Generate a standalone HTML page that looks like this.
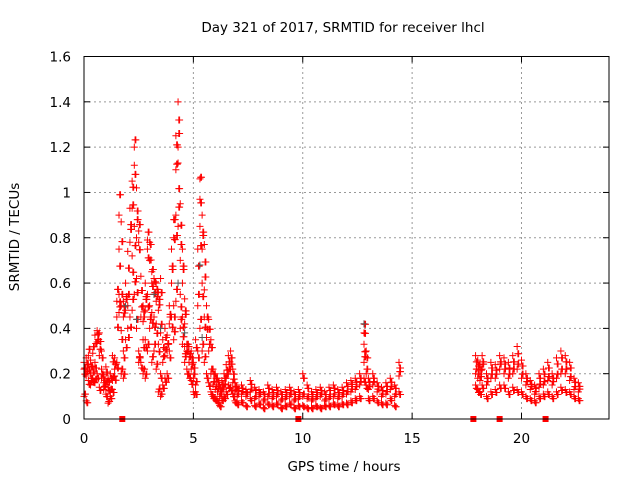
<!DOCTYPE html>
<html><head><meta charset="utf-8">
<style>
html,body{margin:0;padding:0;background:#fff;}
svg{display:block;font-family:"DejaVu Sans","Liberation Sans",sans-serif;}
</style></head>
<body>
<svg id="chart" width="640" height="480" viewBox="0 0 640 480" xmlns="http://www.w3.org/2000/svg">
<rect width="640" height="480" fill="#fff"/>
<text x="343" y="32" font-size="13.5" text-anchor="middle" fill="#000">Day 321 of 2017, SRMTID for receiver lhcl</text>
<text transform="translate(19,237) rotate(-90)" font-size="13.5" text-anchor="middle" fill="#000">SRMTID / TECUs</text>
<text x="344" y="471" font-size="13.5" text-anchor="middle" fill="#000">GPS time / hours</text>
<g id="grid"></g>
<g id="ticks"></g>
<g id="points"></g>
<rect x="84" y="56.5" width="525" height="362.5" fill="none" stroke="#000" stroke-width="1"/>
</svg>
<script>
const xTicks=[0,5,10,15,20];
const yTicks=[0,0.2,0.4,0.6,0.8,1,1.2,1.4,1.6];
const yTickLabels=["0","0.2","0.4","0.6","0.8","1","1.2","1.4","1.6"];
const times=[0,0.1,0.2,0.3,0.4,0.5,0.6,0.7,0.8,0.9,1.0,1.1,1.2,1.3,1.4,1.5,1.6,1.7,1.8,1.9,2.0,2.1,2.2,2.3,2.4,2.5,2.6,2.7,2.8,2.9,3.0,3.1,3.2,3.3,3.4,3.5,3.6,3.7,3.8,3.9,4.0,4.1,4.2,4.3,4.4,4.5,4.6,4.7,4.8,4.9,5.0,5.1,5.2,5.3,5.4,5.5,5.6,5.7,5.8,5.9,6.0,6.1,6.2,6.3,6.4,6.5,6.6,6.7,6.8,6.9,7.0,7.2,7.4,7.6,7.8,8.0,8.2,8.4,8.6,8.8,9.0,9.2,9.4,9.6,9.8,10.0,10.2,10.4,10.6,10.8,11.0,11.2,11.4,11.6,11.8,12.0,12.2,12.4,12.6,12.8,12.9,13.0,13.2,13.4,13.6,13.8,14.0,14.2,14.4,
17.9,18.0,18.1,18.2,18.4,18.6,18.8,19.0,19.2,19.4,19.6,19.8,20.0,20.2,20.4,20.6,20.8,21.0,21.2,21.4,21.6,21.8,22.0,22.2,22.4,22.6,22.8];
const values=[[.22,.1,.25],[.27,.19,.08],[.24,.28,.17],[.26,.15,.2],[.23,.29,.18],[.37,.16,.25],[.39,.34,.2],[.38,.28,.14],[.3,.18,.22],[.19,.13,.16],[.23,.15,.11],[.18,.07,.14],[.2,.12,.1],[.28,.17,.13],[.27,.22,.19],[.45,.52,.25],[.75,.9,.55,.47],[.87,.5,.39,.2],[.52,.45,.3,.18],[.6,.48,.35],[.74,.5,.4],[.93,.78,.45],[1.05,.93,.72,.48],[1.2,1.12,.85,.55],[1.02,.8,.62,.4],[.83,.78,.3,.25],[.63,.45,.25],[.5,.43,.35,.2],[.6,.48,.35,.18],[.79,.75,.55,.3],[.78,.7,.5,.4],[.65,.6,.47,.25],[.62,.55,.45,.3],[.6,.52,.42,.22],[.56,.48,.33,.12],[.62,.38,.2,.1],[.35,.25,.15],[.4,.28,.18],[.37,.3,.2],[.5,.42,.3],[.75,.6,.45],[.88,.8,.5,.35],[1.25,1.1,.9,.52],[1.4,1.2,1.13,.85],[.95,.7,.55,.4],[.75,.6,.45,.33],[.53,.42,.32,.25],[.33,.3,.22],[.32,.25,.2],[.3,.22,.17],[.25,.18,.12],[.35,.15,.12],[.75,.5,.3],[1.06,.97,.85,.4],[.9,.75,.6,.3],[.77,.57,.45,.25],[.5,.36,.2],[.44,.3,.16],[.35,.2,.12],[.22,.15,.1],[.2,.13,.09],[.18,.12,.08],[.15,.1,.06],[.17,.12,.09],[.2,.14,.1],[.24,.18,.12],[.28,.2,.15],[.3,.22,.14],[.22,.16,.11],[.16,.12,.08],[.14,.1,.07],[.15,.11,.08],[.13,.1,.06],[.17,.12,.09],[.14,.09,.06],[.13,.1,.07],[.12,.08,.05],[.15,.1,.07],[.13,.09,.06],[.14,.1,.07],[.12,.08,.05],[.13,.09,.06],[.14,.1,.07],[.12,.08,.05],[.13,.09,.06],[.2,.1,.06],[.15,.09,.05],[.12,.08,.05],[.13,.09,.06],[.14,.1,.05],[.12,.08,.06],[.14,.09,.06],[.15,.1,.07],[.13,.09,.06],[.14,.1,.07],[.16,.11,.07],[.17,.12,.08],[.18,.13,.09],[.2,.15,.1],[.42,.38,.33,.25,.18],[.3,.2,.15],[.18,.13,.09],[.2,.15,.1],[.16,.12,.08],[.14,.1,.07],[.16,.11,.07],[.18,.13,.09],[.15,.1,.06],
[.25,.19,.12],[.28,.2,.15],[.26,.18,.13],[.24,.17,.12],[.28,.22,.15],[.2,.15,.1],[.25,.18,.12],[.24,.18,.13],[.28,.22,.15],[.27,.2,.15],[.25,.18,.12],[.28,.2,.14],[.32,.22,.13],[.26,.18,.12],[.2,.15,.1],[.17,.13,.09],[.15,.11,.08],[.2,.14,.1],[.22,.15,.11],[.25,.17,.12],[.2,.15,.1],[.27,.18,.12],[.3,.2,.14],[.28,.2,.13],[.25,.17,.12],[.18,.13,.1],[.16,.12,.09]];
const darkTimes=[1.9,2.4,3.2,3.5,4.3,4.6,5.3,5.4,12.8];
const darkValues=[.5,.44,.55,.4,.6,.38,.68,.36,.42];
const squareTimes=[1.75,9.8,17.8,19.0,21.1];

const NS="http://www.w3.org/2000/svg";
const X0=84,X1=609,Y0=419,Y1=56.5,XMAX=24,YMAX=1.6;
function sx(t){return X0+(X1-X0)*t/XMAX;}
function sy(v){return Y0-(Y0-Y1)*v/YMAX;}
function mk(tag,attrs,parent){const e=document.createElementNS(NS,tag);for(const k in attrs)e.setAttribute(k,attrs[k]);parent.appendChild(e);return e;}
const grid=document.getElementById('grid'),ticks=document.getElementById('ticks'),pts=document.getElementById('points');
yTicks.forEach((v,i)=>{
  const y=sy(v);
  if(i>0&&i<yTicks.length-1){const g=mk('line',{x1:X0,x2:X1,y1:y,y2:y,stroke:'#999','stroke-dasharray':'2,3','stroke-width':1},grid);
  
  }
  mk('line',{x1:X0,x2:X0+6,y1:y,y2:y,stroke:'#000'},ticks);
  mk('line',{x1:X1,x2:X1-6,y1:y,y2:y,stroke:'#000'},ticks);
  const t=mk('text',{x:X0-13,y:y+5,'font-size':13.5,'text-anchor':'end'},ticks);
  t.textContent=yTickLabels[i];
  
  
});
xTicks.forEach(v=>{
  const x=sx(v);
  if(v>0){const g=mk('line',{x1:x,x2:x,y1:Y0,y2:Y1,stroke:'#999','stroke-dasharray':'2,3','stroke-width':1},grid);
  
  }
  mk('line',{x1:x,x2:x,y1:Y0,y2:Y0-6,stroke:'#000'},ticks);
  mk('line',{x1:x,x2:x,y1:Y1,y2:Y1+6,stroke:'#000'},ticks);
  const t=mk('text',{x:x,y:Y0+24,'font-size':13.5,'text-anchor':'middle'},ticks);
  t.textContent=String(v);
  
  
});
function plus(t,v,col){
  const x=sx(t),y=sy(v);
  const p=mk('path',{d:`M${x-3.5},${y}H${x+3.5}M${x},${y-3.5}V${y+3.5}`,stroke:col,'stroke-width':1,fill:'none'},pts);
  
  
}
const offs=[[0,1],[0.035,0.9],[0.07,1.1]];
times.forEach((t,i)=>{
  const vs=values[i]||[];
  vs.forEach((v,j)=>{
    offs.forEach((o,k)=>plus(t+o[0],v*((j+k)%2?o[1]:2-o[1]),'#f00'));
  });
});
darkTimes.forEach((t,i)=>plus(t,darkValues[i],'#555'));
squareTimes.forEach(t=>{
  const r=mk('rect',{x:sx(t)-3,y:Y0-3,width:6,height:6,fill:'#f00'},pts);
  
  
});
</script>
</body></html>
